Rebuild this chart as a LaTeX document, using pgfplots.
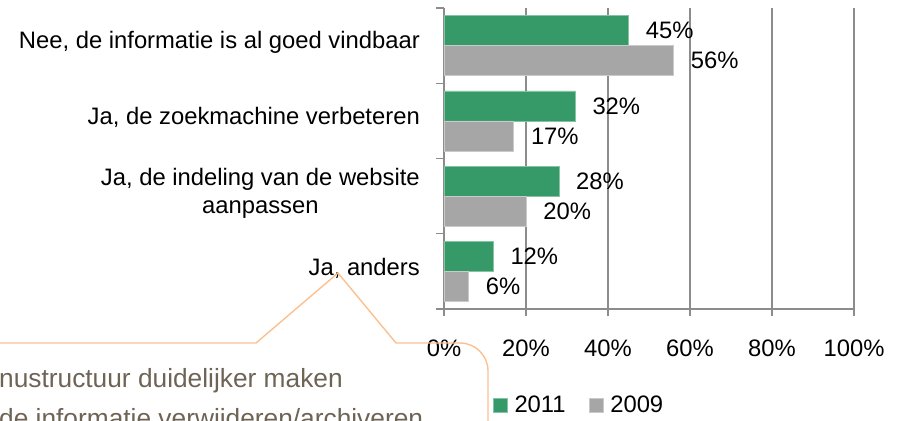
\documentclass[border=0pt]{standalone}
\usepackage{pgfplots}
\pgfplotsset{compat=1.18}
\usepackage{fontspec}
\setmainfont{Liberation Sans}
\definecolor{cgreen}{RGB}{53,153,104}
\definecolor{cgray}{RGB}{166,166,166}
\definecolor{caxis}{RGB}{140,140,140}
\definecolor{corange}{RGB}{250,192,144}
\definecolor{ctext}{RGB}{110,100,86}
\newcommand{\cf}{\fontsize{23.8bp}{28bp}\selectfont}
\newcommand{\ccf}{\fontsize{26.3bp}{30bp}\selectfont}
\begin{document}
\begin{tikzpicture}[x=1bp,y=1bp]
\useasboundingbox (0,0) rectangle (903,420);
\clip (0,0) rectangle (903,420);
\begin{axis}[
  at={(444bp,111bp)}, anchor=south west,
  scale only axis, width=410bp, height=301bp,
  xmin=0, xmax=100, ymin=-0.5, ymax=3.5,
  xbar, bar width=30bp,
  /pgf/number format/assume math mode=true,
  axis lines=left, axis line style={-, caxis, line width=1.3bp},
  every tick/.style={caxis, line width=1.3bp},
  tick align=outside,
  xtick={0,20,40,60,80,100},
  xticklabels={0\%,20\%,40\%,60\%,80\%,100\%},
  major tick length=7bp,
  xmajorgrids, major grid style={caxis, line width=1.3bp},
  ytick={0,1,2,3},
  yticklabels={{Ja, anders},{Ja, de indeling van de website\\aanpassen},{Ja, de zoekmachine verbeteren},{Nee, de informatie is al goed vindbaar}},
  minor ytick={-0.5,0.5,1.5,2.5,3.5},
  y tick style={draw=none},
  minor y tick style={draw=caxis, line width=1.3bp},
  minor tick length=8bp,
  yticklabel style={font=\cf, align=center, inner sep=0pt, xshift=-17bp, yshift=3bp},
  xticklabel style={font=\cf, inner sep=0pt, yshift=-24bp},
  nodes near coords={\pgfmathprintnumber{\pgfplotspointmeta}\%},
  nodes near coords style={font=\cf, anchor=west, inner sep=0pt, xshift=17bp},
  legend style={at={(0.12,-0.319)}, anchor=west, draw=none, fill=none, inner sep=0pt,
    font=\cf, legend columns=2,
    nodes={inner xsep=6.5bp, inner ysep=0pt},
    /tikz/every even column/.append style={column sep=17bp}},
  legend image code/.code={\fill[#1] (0bp,-7bp) rectangle (14bp,7bp);},
  clip=false,
]
\addplot[fill=cgreen, draw=cgreen!60!white, line width=0.6bp, bar shift=15bp] coordinates {(45,3) (32,2) (28,1) (12,0)};
\addplot[fill=cgray, draw=cgray!60!white, line width=0.6bp, bar shift=-15bp] coordinates {(56,3) (17,2) (20,1) (6,0)};
\legend{2011,2009}
\end{axis}
\draw[corange, line width=1.4bp] (-5,77) -- (256,77) -- (338,147) -- (396,77) -- (460,77) arc[start angle=90, end angle=0, radius=28] -- (488,-5);
\node[font=\ccf, text=ctext, anchor=base west, inner sep=0pt] at (-1,33) {\llap{Me}nustructuur duidelijker maken};
\node[font=\ccf, text=ctext, anchor=base west, inner sep=0pt] at (-1,-7) {\llap{Veroude}de informatie verwijderen/archiveren};
\end{tikzpicture}
\end{document}
